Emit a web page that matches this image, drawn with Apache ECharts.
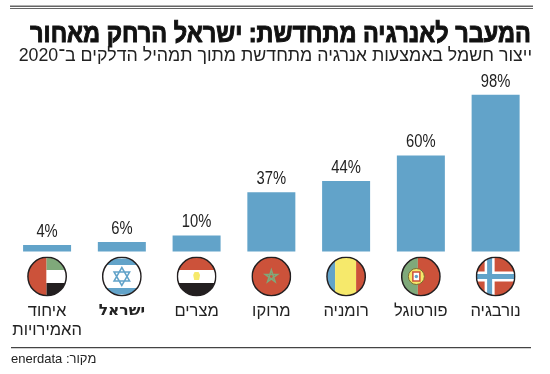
<!DOCTYPE html>
<html><head><meta charset="utf-8">
<style>html,body{margin:0;padding:0;background:#fff}#c{width:550px;height:374px}</style>
<script src="https://cdn.jsdelivr.net/npm/echarts@6/dist/echarts.min.js"></script>
</head><body><div id="c" dir="rtl"></div>
<script>
const categories = ['איחוד\nהאמירויות','ישראל','מצרים','מרוקו','רומניה','פורטוגל','נורבגיה'];
const values = [4,6,10,37,44,60,98];
const titleText = 'המעבר לאנרגיה מתחדשת: ישראל הרחק מאחור';
const subtitleText = 'ייצור חשמל באמצעות אנרגיה מתחדשת מתוך תמהיל הדלקים ב־2020';
const sourceText = 'מקור: enerdata';
const BLUE='#62a3c9', RED='#cc523a', GREEN='#7fa97a', YEL='#f6e96b', BLK='#231f20';
const flagArt = [
 `<rect width="19.5" height="40" fill="${RED}"/><rect x="19.5" width="21" height="13.5" fill="${GREEN}"/><rect x="19.5" y="13.5" width="21" height="13" fill="#fff"/><rect x="19.5" y="26.5" width="21" height="13.5" fill="${BLK}"/>`,
 `<rect width="40" height="40" fill="#fff"/><rect y="2" width="40" height="6.5" fill="${BLUE}"/><rect y="31.5" width="40" height="6.5" fill="${BLUE}"/><path d="M20 11L27.8 24.5H12.2ZM20 29L12.2 15.5H27.8Z" fill="none" stroke="${BLUE}" stroke-width="1.5"/>`,
 `<rect width="40" height="13.5" fill="${RED}"/><rect y="13.5" width="40" height="13" fill="#fff"/><rect y="26.5" width="40" height="13.5" fill="${BLK}"/><path d="M18 15.5h4l1.5 3-1 5h-4.9l-1-5z" fill="${YEL}"/>`,
 `<rect width="40" height="40" fill="${RED}"/><path d="M20 13.5L23.8 25.2L13.9 18H26.1L16.2 25.2Z" fill="none" stroke="${GREEN}" stroke-width="1.5"/>`,
 `<rect width="9" height="40" fill="${BLUE}"/><rect x="9" width="21" height="40" fill="${YEL}"/><rect x="30" width="10" height="40" fill="${RED}"/>`,
 `<rect width="17" height="40" fill="${GREEN}"/><rect x="17" width="23" height="40" fill="${RED}"/><circle cx="15.5" cy="20" r="8" fill="${YEL}" stroke="#7a6a30" stroke-width="1"/><rect x="12" y="15.5" width="7" height="9" fill="#fff" stroke="${RED}" stroke-width="1.5"/><circle cx="15.5" cy="20" r="1.7" fill="${BLUE}"/>`,
 `<rect width="40" height="40" fill="${RED}"/><rect x="9" width="10" height="40" fill="#fff"/><rect y="15" width="40" height="10" fill="#fff"/><rect x="11.5" width="5" height="40" fill="${BLUE}"/><rect y="17.5" width="40" height="5" fill="${BLUE}"/>`
];
const flagUrl = art => 'data:image/svg+xml;charset=utf-8,' + encodeURIComponent(
 `<svg xmlns="http://www.w3.org/2000/svg" width="40" height="40" viewBox="0 0 40 40"><defs><clipPath id="k"><circle cx="20" cy="20" r="19.2"/></clipPath></defs><g clip-path="url(#k)">${art}</g><circle cx="20" cy="20" r="19.2" fill="none" stroke="${BLK}" stroke-width="1.5"/></svg>`);
const flagUrls = flagArt.map(flagUrl);

const FONT = '"Liberation Sans", Arial, sans-serif';
const TITLE_FONT = 'bold 27px "Liberation Sans"';
const mctx = document.createElement('canvas').getContext('2d');
mctx.font = TITLE_FONT;
const titleScale = 501 / mctx.measureText(titleText).width;
const chart = echarts.init(document.getElementById('c'), null, {renderer:'canvas'});
chart.setOption({
 animation:false,
 backgroundColor:'#fff',
 grid:{left:9.7,right:17,top:91.5,bottom:122.5},
 xAxis:{type:'category',data:categories,axisLine:{show:false},axisTick:{show:false},
  axisLabel:{margin:50,interval:0,color:'#222',fontFamily:FONT,fontSize:16.5,lineHeight:19,verticalAlign:'top',
   formatter:v=>v==='ישראל'?`{b|${v}}`:v,
   rich:{b:{fontWeight:'bold',fontFamily:'"DejaVu Sans"',fontSize:15.5,color:'#222',lineHeight:19}}}},
 yAxis:{type:'value',min:0,max:100,show:false,splitLine:{show:false}},
 series:[
  {type:'bar',data:values,barWidth:48,itemStyle:{color:BLUE}},
  {type:'custom',clip:false,silent:true,data:values.map((v,i)=>[i,v]),encode:{x:0,y:1},
   renderItem:(p,api)=>{
    const base=api.coord([api.value(0),0]), top=api.coord([api.value(0),api.value(1)]);
    return {type:'group',children:[
     {type:'image',style:{image:flagUrls[p.dataIndex],x:base[0]-20,y:base[1]+5,width:40,height:40}},
     {type:'text',x:top[0],y:top[1]-4,scaleX:0.82,style:{text:api.value(1)+'%',font:'18px "Liberation Sans"',fill:'#222',textAlign:'center',textVerticalAlign:'bottom'}}
    ]};}}
 ],
 graphic:[
  {type:'rect',shape:{x:10,y:5.5,width:523,height:1.5},style:{fill:'#666'}},
  {type:'rect',shape:{x:10,y:8,width:523,height:1},style:{fill:'#666'}},
  {type:'text',x:531,y:21,scaleX:titleScale,style:{text:titleText,font:TITLE_FONT,fill:'#111',stroke:'#111',lineWidth:1,textAlign:'right'}},
  {type:'text',x:532,y:47.5,style:{text:subtitleText,font:'17.8px "Liberation Sans"',fill:'#222',textAlign:'right'}},
  {type:'rect',shape:{x:11,y:347,width:520,height:1.2},style:{fill:'#444'}},
  {type:'text',left:11,top:353,style:{text:sourceText,font:'13px "Liberation Sans"',fill:'#222'}}
 ]
});
</script></body></html>
